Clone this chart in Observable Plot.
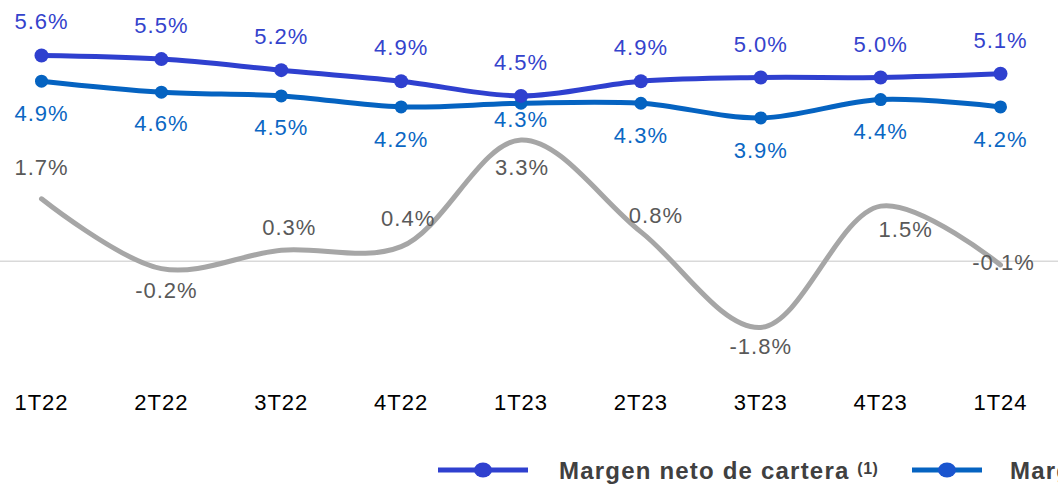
<!DOCTYPE html>
<html><head><meta charset="utf-8">
<script src="https://cdn.jsdelivr.net/npm/d3@7"></script>
<script src="https://cdn.jsdelivr.net/npm/@observablehq/plot@0.6"></script>
<style>
body{margin:0;background:#fff;font-family:"Liberation Sans",Arial,sans-serif;}
#wrap{position:relative;width:1058px;height:484px;overflow:hidden;background:#fff;}
#chart svg text{letter-spacing:1px;}
.legtxt{position:absolute;top:456px;font-family:"Liberation Sans",Arial,sans-serif;font-weight:bold;font-size:24px;line-height:30px;color:#404040;letter-spacing:1.2px;white-space:nowrap;}
.legtxt sup{font-size:16px;line-height:0;position:relative;top:-5px;vertical-align:baseline;letter-spacing:0.5px;}
</style></head><body>
<div id="wrap"><div id="chart"></div></div>
<script>
// ---- data ----
const categories = ["1T22","2T22","3T22","4T22","1T23","2T23","3T23","4T23","1T24"];
const margenNetoCartera = [5.6, 5.5, 5.2, 4.9, 4.5, 4.9, 5.0, 5.0, 5.1];
const margenSegunda = [4.9, 4.6, 4.5, 4.2, 4.3, 4.3, 3.9, 4.4, 4.2];
const serieGris = [1.7, -0.2, 0.3, 0.4, 3.3, 0.8, -1.8, 1.5, -0.1];
const seriesNames = ["Margen neto de cartera", "Margen de intermediación", "Diferencial"];

// ---- layout (label offsets in px, not data) ----
const offTop = categories.map(() => [0, -33]);
const offMid = [[0,33],[0,32],[0,32],[0,33],[0,17],[0,33],[0,33],[0,32],[0,33]];
const offGray = [[0,-31],[5,22],[8,-22],[7,-28],[1,28],[15,-16],[0,19],[25,24],[3,-2]];

const colTop = "#2f40cf", colMid = "#0563c1", colGray = "#a6a6a6";
const lblTop = "#3443cc", lblMid = "#0b67c3", lblGray = "#595959";

const rows = (arr) => categories.map((c, i) => ({i, cat: c, v: arr[i]}));
const dTop = rows(margenNetoCartera), dMid = rows(margenSegunda), dGray = rows(serieGris);
const fmt = v => v.toFixed(1) + "%";

const labels = (data, offs, color) => data.map((d, k) =>
  Plot.text([d], {x: "i", y: "v", text: r => fmt(r.v), dx: offs[k][0], dy: offs[k][1],
    fill: color, fontSize: 22, fontFamily: "Liberation Sans, Arial, sans-serif"}));

const x0 = 41, x8 = 1000, W = 1058;
const step = (x8 - x0) / 8;
const zeroY = 260.8, ppu = 36.76;

const chart = Plot.plot({
  width: W, height: 440,
  marginLeft: 0, marginRight: 0, marginTop: 0, marginBottom: 50,
  style: {fontFamily: "Liberation Sans, Arial, sans-serif", background: "#fff", overflow: "visible"},
  x: {type: "linear", domain: [-x0 / step, 8 + (W - x8) / step], axis: null, label: null},
  y: {domain: [-2, 6], range: [zeroY + 2 * ppu, zeroY - 6 * ppu], axis: null, label: null},
  marks: [
    Plot.ruleY([0], {stroke: "#d9d9d9", strokeWidth: 1.5}),
    Plot.line(dGray, {x: "i", y: "v", curve: "catmull-rom", stroke: colGray, strokeWidth: 5}),
    Plot.line(dMid, {x: "i", y: "v", curve: "catmull-rom", stroke: colMid, strokeWidth: 5}),
    Plot.dot(dMid, {x: "i", y: "v", r: 6.5, fill: colMid}),
    Plot.line(dTop, {x: "i", y: "v", curve: "catmull-rom", stroke: colTop, strokeWidth: 5}),
    Plot.dot(dTop, {x: "i", y: "v", r: 7, fill: colTop}),
    ...labels(dGray, offGray, lblGray),
    ...labels(dMid, offMid, lblMid),
    ...labels(dTop, offTop, lblTop),
    Plot.axisX({ticks: d3.range(categories.length), tickFormat: i => categories[i],
      tickSize: 0, tickPadding: 4, fontSize: 22, color: "#000", label: null})
  ]
});
document.getElementById("chart").appendChild(chart);

// ---- legend ----
const wrap = document.getElementById("wrap");
function legendItem(left, lineW, color, markerColor, textLeft, name, sup) {
  const ns = "http://www.w3.org/2000/svg";
  const s = document.createElementNS(ns, "svg");
  s.setAttribute("width", lineW); s.setAttribute("height", 20);
  s.style.cssText = `position:absolute;left:${left}px;top:460px;`;
  const l = document.createElementNS(ns, "line");
  l.setAttribute("x1", 0); l.setAttribute("x2", lineW); l.setAttribute("y1", 10); l.setAttribute("y2", 10);
  l.setAttribute("stroke", color); l.setAttribute("stroke-width", 5);
  const e = document.createElementNS(ns, "ellipse");
  e.setAttribute("cx", lineW / 2); e.setAttribute("cy", 10); e.setAttribute("rx", 9); e.setAttribute("ry", 7.5);
  e.setAttribute("fill", markerColor);
  s.appendChild(l); s.appendChild(e);
  wrap.appendChild(s);
  const t = document.createElement("div");
  t.className = "legtxt"; t.style.left = textLeft + "px";
  t.textContent = name + " ";
  if (sup) { const sp = document.createElement("sup"); sp.textContent = sup; t.appendChild(sp); }
  wrap.appendChild(t);
}
legendItem(438, 90, colTop, colTop, 559, seriesNames[0], "(1)");
legendItem(912, 70, colMid, "#1a55cf", 1010, seriesNames[1], "");
</script>
</body></html>
